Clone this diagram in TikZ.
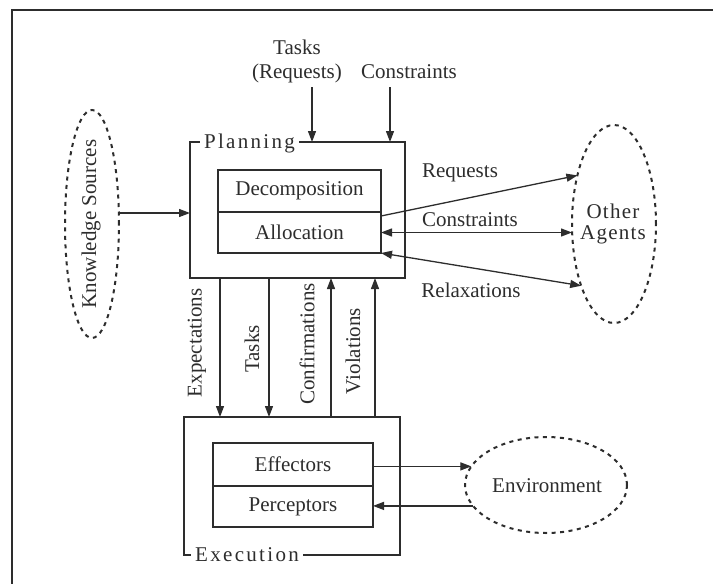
\documentclass[tikz,border=0pt]{standalone}
\usepackage{fontspec}
\setmainfont{Liberation Serif}
\newfontfamily\spacedfont[LetterSpace=11]{Liberation Serif}
\newfontfamily\spacedfontb[LetterSpace=6]{Liberation Serif}
\usetikzlibrary{arrows.meta,shapes.geometric}
\definecolor{ink}{RGB}{45,45,45}
\begin{document}
\begin{tikzpicture}[x=1pt,y=-1pt,
  font=\fontsize{21}{24}\selectfont,
  box/.style={draw=ink, line width=1.3pt, inner sep=0pt, outer sep=0pt, text=ink},
  cloudell/.style={ellipse, draw=ink, line width=2pt, dash pattern=on 4pt off 4.5pt, inner sep=0pt, outer sep=0pt},
  lbl/.style={text=ink, inner sep=1pt},
  tip/.tip={Triangle[length=11pt,width=8pt]},
  arr/.style={draw=ink, line width=1.3pt, -tip},
  darr/.style={draw=ink, line width=1.3pt, tip-tip},
  boxtitle/.style={fill=white, text=ink, inner xsep=4pt, inner ysep=1pt, font=\spacedfont\fontsize{21}{24}\selectfont}
]
\useasboundingbox (0,0) rectangle (713,584);
\fill[white] (0,0) rectangle (713,584);
% outer frame (cropped)
\draw[ink, line width=1.5pt] (713,10) -- (12,10) -- (12,584);

% Planning
\node[box, minimum width=215pt, minimum height=136pt] (plan) at (297.5,210) {};
\node[boxtitle] (plantitle) at (249.5,143) {Planning};
\node[box, minimum width=163pt, minimum height=42pt] (dec) at (299.5,191) {Decomposition};
\node[box, minimum width=163pt, minimum height=41pt] (alloc) at (299.5,232.5) {Allocation};

% Execution
\node[box, minimum width=216pt, minimum height=138pt] (exe) at (292,486) {};
\node[boxtitle] (exetitle) at (247,555) {Execution};
\node[box, minimum width=160pt, minimum height=43pt] (eff) at (293,464.5) {Effectors};
\node[box, minimum width=160pt, minimum height=41pt] (perc) at (293,506.5) {Perceptors};

% Ellipses
\node[cloudell, minimum width=54pt, minimum height=228pt] (ks) at (92,224) {};
\node[lbl, rotate=90] (kstext) at (91,224) {Knowledge Sources};
\node[cloudell, minimum width=84pt, minimum height=198pt] (others) at (614,224) {};
\node[lbl, align=center, font=\spacedfontb\fontsize{21}{21}\selectfont] (otherstext) at (613,224) {Other\\Agents};
\node[cloudell, minimum width=162pt, minimum height=96pt] (env) at (546,485) {};
\node[lbl] (envtext) at (547,486) {Environment};

% Top inputs
\node[lbl, align=center] (tasksin) at (297,61) {Tasks\\(Requests)};
\node[lbl] (consin) at (409,72) {Constraints};
\coordinate (tin) at (312,87);
\coordinate (cin) at (390,87);
\draw[arr] (tin) -- (tin |- plan.north);
\draw[arr] (cin) -- (cin |- plan.north);

% Knowledge sources
\coordinate (kin) at ([yshift=11pt]ks.east);
\draw[arr] (kin) -- (kin -| plan.west);

% Other agents
\draw[arr] ([yshift=-4pt]alloc.north east) -- (others.127);
\draw[darr] (alloc.east) -- (alloc.east -| others.west);
\draw[darr] (alloc.south east) -- (others.242);
\node[lbl] (lreq) at (460,173) {Requests};
\node[lbl] (lcons) at (470,220) {Constraints};
\node[lbl] (lrel) at (471,290) {Relaxations};

% Planning <-> Execution
\coordinate (v1) at ([xshift=30pt]plan.south west);
\coordinate (v2) at ([xshift=79pt]plan.south west);
\coordinate (v3) at ([xshift=141pt]plan.south west);
\coordinate (v4) at ([xshift=185pt]plan.south west);
\draw[arr] (v1) -- (v1 |- exe.north);
\draw[arr] (v2) -- (v2 |- exe.north);
\draw[arr] (v3 |- exe.north) -- (v3);
\draw[arr] (v4 |- exe.north) -- (v4);
\node[lbl, rotate=90] (lexp) at (197,343) {Expectations};
\node[lbl, rotate=90] (ltask) at (252,349) {Tasks};
\node[lbl, rotate=90] (lconf) at (307,344) {Confirmations};
\node[lbl, rotate=90] (lviol) at (353,351) {Violations};

% Environment
\coordinate (eo) at (env.166);
\coordinate (ei) at (env.196);
\draw[arr] (eo -| eff.east) -- (eo);
\draw[arr] (ei) -- (ei -| perc.east);
\end{tikzpicture}
\end{document}
